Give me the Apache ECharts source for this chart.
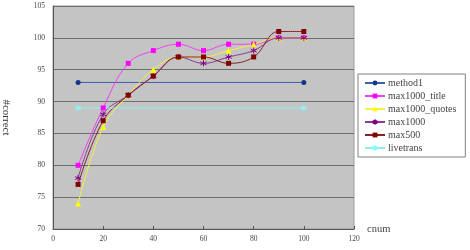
<!DOCTYPE html>
<html>
<head>
  <meta charset="UTF-8">
  <script src="https://cdn.jsdelivr.net/npm/echarts@6/dist/echarts.min.js"></script>
  <style>
    body { margin: 0; padding: 0; background: #ffffff; }
    #chart { width: 470px; height: 250px; }
  </style>
</head>
<body>
  <div id="chart"></div>
  <script>
    // x positions (cnum)
    const cnum = [10, 20, 30, 40, 50, 60, 70, 80, 90, 100];
    const methodX = [10, 100];

    // values
    const method1 = [93, 93];
    const livetrans = [89, 89];
    const max1000Title = [80, 89, 96, 98, 99, 98, 99, 99, 100, 100];
    const max1000Quotes = [74, 86, 91, 95, 97, 97, 98, 99, 100, 100];
    const max1000 = [78, 88, 91, 94, 97, 96, 97, 98, 100, 100];
    const max500 = [77, 87, 91, 94, 97, 97, 96, 97, 101, 101];

    const pair = (xs, ys) => xs.map((x, i) => [x, ys[i]]);
    const serif = '"Liberation Serif", "DejaVu Serif", serif';
    const star = 'path://M0,-5L0,5M-4.3,-2.5L4.3,2.5M-4.3,2.5L4.3,-2.5';

    function line(name, data, color, lineColor, symbol, size, smooth) {
      return {
        name: name,
        type: 'line',
        data: data,
        smooth: smooth,
        symbol: symbol,
        symbolSize: size,
        lineStyle: { color: lineColor, width: 1 },
        itemStyle: { color: color, borderColor: color, borderWidth: symbol === star ? 1 : 0 },
        animation: false
      };
    }

    const chart = echarts.init(document.getElementById('chart'));

    const option = {
      backgroundColor: '#ffffff',
      textStyle: { fontFamily: serif },
      grid: {
        left: 53,
        right: 116,
        top: 6,
        bottom: 21,
        outerBoundsMode: 'none',
        containLabel: false,
        show: true,
        backgroundColor: '#c4c4c4',
        borderColor: '#9a9a9a',
        borderWidth: 1
      },
      legend: {
        orient: 'vertical',
        left: 358,
        top: 74,
        padding: [4, 9, 4, 6],
        itemGap: 3,
        itemWidth: 20,
        itemHeight: 6,
        backgroundColor: '#ffffff',
        borderColor: '#808080',
        borderWidth: 1,
        textStyle: { fontFamily: serif, fontSize: 10, color: '#444', padding: [0, 0, 0, -2] },
        data: ['method1', 'max1000_title', 'max1000_quotes', 'max1000', 'max500', 'livetrans']
      },
      xAxis: {
        type: 'value',
        min: 0,
        max: 120,
        interval: 20,
        name: 'cnum',
        nameLocation: 'end',
        nameGap: 13,
        nameTextStyle: { fontFamily: serif, fontSize: 10.5, color: '#444', padding: [8, 0, 0, 0] },
        axisLine: { lineStyle: { color: '#555', width: 1 } },
        axisTick: { show: true, inside: true, length: 3, lineStyle: { color: '#555' } },
        axisLabel: { fontFamily: serif, fontSize: 7.5, color: '#444', margin: 6 },
        splitLine: { show: false }
      },
      yAxis: {
        type: 'value',
        min: 70,
        max: 105,
        interval: 5,
        name: '#correct',
        nameLocation: 'middle',
        nameRotate: -90,
        nameGap: 42,
        nameTextStyle: { fontFamily: serif, fontSize: 11, color: '#333' },
        axisLine: { show: true, lineStyle: { color: '#555', width: 1 } },
        axisTick: { show: false },
        axisLabel: { fontFamily: serif, fontSize: 7.5, color: '#444', margin: 8 },
        splitLine: { show: true, lineStyle: { color: '#6e6e6e', width: 1.2 } }
      },
      series: [
        line('method1', pair(methodX, method1), '#14368a', '#3d5fae', 'circle', 5, false),
        line('max1000_title', pair(cnum, max1000Title), '#ff00ff', '#f040f0', 'rect', 5, 0.4),
        line('max1000_quotes', pair(cnum, max1000Quotes), '#ffff00', '#f4f040', 'triangle', 6, 0.4),
        line('max1000', pair(cnum, max1000), '#800080', '#8a3a9a', star, 6, 0.4),
        line('max500', pair(cnum, max500), '#800000', '#8a2020', 'rect', 5, 0.4),
        line('livetrans', pair(methodX, livetrans), '#80ffff', '#90f0f0', star, 6, false)
      ]
    };

    chart.setOption(option);
  </script>
</body>
</html>
